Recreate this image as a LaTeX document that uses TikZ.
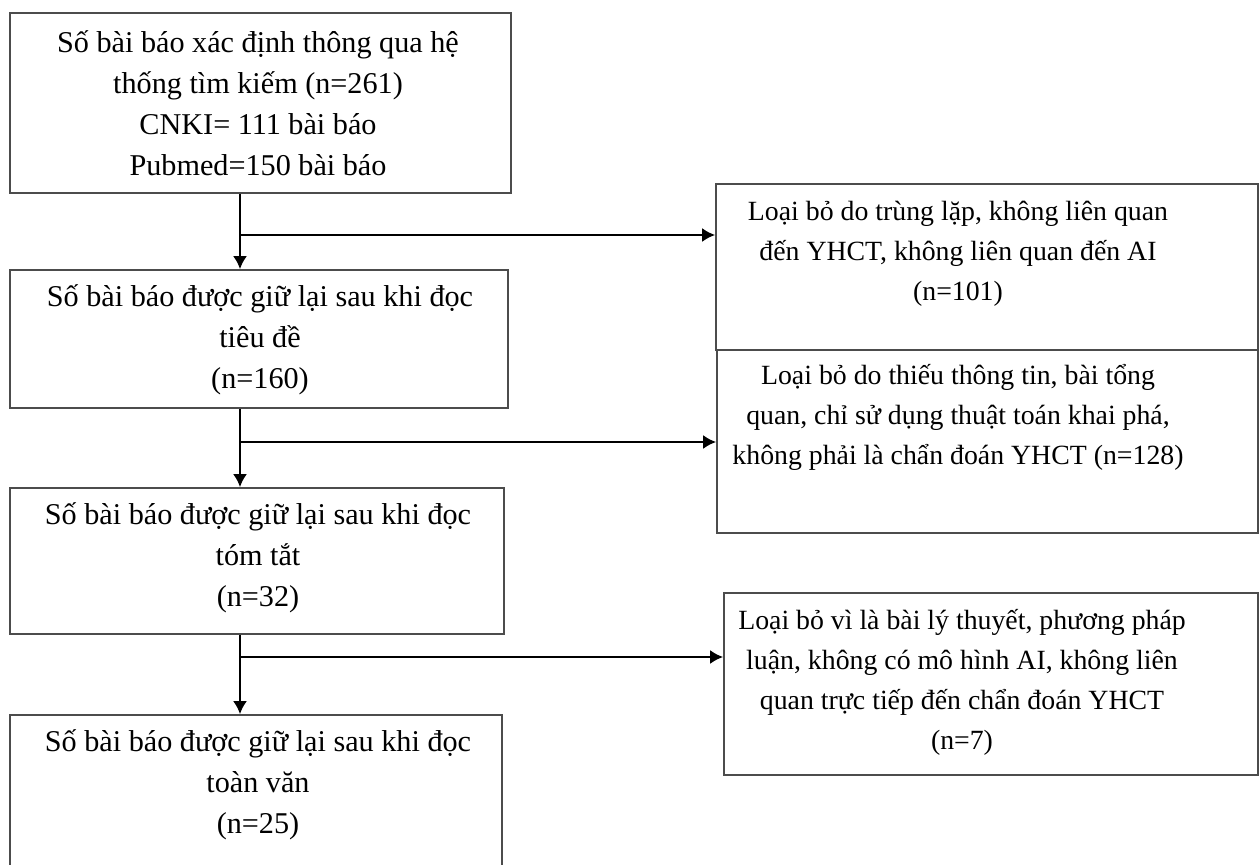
\documentclass[tikz,border=0pt]{standalone}
\usepackage{fontspec}
\setmainfont{Liberation Serif}
\usetikzlibrary{arrows.meta}

\tikzset{
  box/.style={draw=black!70, line width=0.8pt, rectangle, inner sep=0pt},
  txt/.style={align=center, inner sep=0pt, font=\fontsize{15.1}{20.5}\selectfont},
  extxt/.style={txt, font=\fontsize{13.9}{20}\selectfont},
  flow/.style={line width=1.3pt, -{Latex[length=6.5pt,width=7pt]}}
}

\begin{document}
\begin{tikzpicture}[x=0.5pt, y=-0.5pt]
  \useasboundingbox (0,0) rectangle (1260,865);

  % main column
  \node[box, minimum width=250.5pt, minimum height=90pt] (b1) at (260.5,103) {};
  \node[box, minimum width=249pt, minimum height=69pt] (b2) at (259,339) {};
  \node[box, minimum width=247pt, minimum height=73pt] (b3) at (257,561) {};
  \node[box, minimum width=246pt, minimum height=78.5pt] (b4) at (256,793.5) {};

  \node[txt] (t1) at (258,103) {Số bài báo xác định thông qua hệ\\ thống tìm kiếm (n=261)\\ CNKI= 111 bài báo\\ Pubmed=150 bài báo};
  \node[txt] (t2) at (260,340) {Số bài báo được giữ lại sau khi đọc\\ tiêu đề\\ (n=160)};
  \node[txt] (t3) at (258,558) {Số bài báo được giữ lại sau khi đọc\\ tóm tắt\\ (n=32)};
  \node[txt] (t4) at (258,785) {Số bài báo được giữ lại sau khi đọc\\ toàn văn\\ (n=25)};

  % excluded
  \node[box, minimum width=271pt, minimum height=83pt] (r1) at (987,267) {};
  \node[box, minimum width=270.5pt, minimum height=91.5pt] (r2) at (987.5,441.5) {};
  \node[box, minimum width=267pt, minimum height=91pt] (r3) at (991,684) {};

  \node[extxt] (t5) at (958,254) {Loại bỏ do trùng lặp, không liên quan\\ đến YHCT, không liên quan đến AI\\ (n=101)};
  \node[extxt] (t6) at (958,417) {Loại bỏ do thiếu thông tin, bài tổng\\ quan, chỉ sử dụng thuật toán khai phá,\\ không phải là chẩn đoán YHCT (n=128)};
  \node[extxt] (t7) at (962,682) {Loại bỏ vì là bài lý thuyết, phương pháp\\ luận, không có mô hình AI, không liên\\ quan trực tiếp đến chẩn đoán YHCT\\ (n=7)};

  \coordinate (spine) at (240,0);
  \coordinate (j1) at (240,235);
  \coordinate (j2) at (240,442);
  \coordinate (j3) at (240,657);

  \draw[flow] (b1.south -| spine) -- (b2.north -| spine);
  \draw[flow] (b2.south -| spine) -- (b3.north -| spine);
  \draw[flow] (b3.south -| spine) -- (b4.north -| spine);

  \draw[flow] (j1) -- (j1 -| r1.west);
  \draw[flow] (j2) -- (j2 -| r2.west);
  \draw[flow] (j3) -- (j3 -| r3.west);
\end{tikzpicture}
\end{document}
